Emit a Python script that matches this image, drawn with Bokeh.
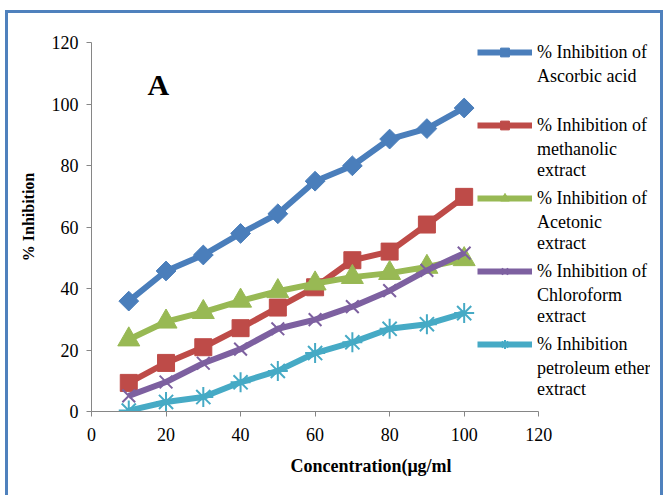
import numpy as np
from bokeh.plotting import figure
from bokeh.models import Legend, LegendItem, Label, Range1d, FixedTicker
from bokeh.embed import file_html
from bokeh.resources import INLINE

conc = [10, 20, 30, 40, 50, 60, 70, 80, 90, 100]
ascorbic = [35.9, 45.7, 50.9, 57.9, 64.3, 74.9, 79.9, 88.6, 92.0, 98.7]
methanolic = [9.3, 15.8, 20.9, 27.1, 33.8, 40.4, 49.2, 52.0, 60.8, 69.8]
acetonic = [23.4, 29.2, 32.3, 36.0, 39.1, 41.6, 43.7, 45.0, 47.0, 49.5]
chloroform = [5.1, 9.6, 15.7, 20.3, 26.9, 29.9, 34.1, 39.3, 45.9, 51.5]
petroleum = [0.3, 3.1, 4.7, 9.5, 13.2, 19.0, 22.5, 26.9, 28.4, 32.0]

label_first = ["% Inhibition of", "% Inhibition of", "% Inhibition of",
               "% Inhibition of", "% Inhibition"]
label_rest = ["Ascorbic acid\n\u00a0", "methanolic\nextract", "Acetonic\nextract",
              "Chloroform\nextract", "petroleum ether\nextract"]
colors = ["#4A7EBB", "#BE4B48", "#98B954", "#7D60A0", "#46AAC5"]
x_ticks = [0, 20, 40, 60, 80, 100, 120]
y_ticks = [0, 20, 40, 60, 80, 100, 120]

FONT = "Liberation Serif"

p = figure(width=658, height=485, output_backend="svg", toolbar_location=None,
           x_range=Range1d(0, 150), y_range=Range1d(0, 120))
p.margin = (10, 0, 0, 5)
p.styles = {"border-left": "3px solid #4F81BD", "border-top": "3px solid #4F81BD",
            "border-right": "3px solid #4F81BD"}
p.min_border_left = 83
p.min_border_right = 16
p.min_border_top = 29
p.min_border_bottom = 87
p.outline_line_color = None
p.xgrid.visible = False
p.ygrid.visible = False

for ax in (p.xaxis[0], p.yaxis[0]):
    ax.bounds = (0, 120)
    ax.axis_line_color = "#868686"
    ax.major_tick_line_color = "#868686"
    ax.minor_tick_line_color = None
    ax.major_tick_in = 0
    ax.major_tick_out = 5
    ax.major_label_text_font = FONT
    ax.major_label_text_font_size = "18px"
    ax.major_label_text_color = "black"
    ax.axis_label_text_font = FONT
    ax.axis_label_text_font_style = "bold"
    ax.axis_label_text_color = "black"
p.xaxis.ticker = FixedTicker(ticks=x_ticks)
p.yaxis.ticker = FixedTicker(ticks=y_ticks)
p.xaxis.axis_label = "Concentration(\u03bcg/ml"
p.yaxis.axis_label = "\u00a0\u00a0\u00a0\u00a0\u00a0% Inhibition"
p.xaxis.axis_label_text_font_size = "18px"
p.yaxis.axis_label_text_font_size = "16px"
p.xaxis.major_label_standoff = 11
p.yaxis.major_label_standoff = 8
p.xaxis.axis_label_standoff = 12
p.yaxis.axis_label_standoff = 12

series = [ascorbic, methanolic, acetonic, chloroform, petroleum]
markers = [("square", 14, np.pi / 4), ("square", 17, 0), ("triangle", 22, 0),
           ("x", 18, 0), ("asterisk", 20, 0)]
items_a, items_b = [], []
for vals, col, l1, l2, (mk, sz, ang) in zip(series, colors, label_first, label_rest, markers):
    lr = p.line(conc, vals, line_color=col, line_width=6, line_join="round", line_cap="butt")
    if mk in ("x", "asterisk"):
        sr = p.scatter(conc, vals, marker=mk, size=sz, line_color=col, line_width=2)
    else:
        sr = p.scatter(conc, vals, marker=mk, size=sz, angle=ang, fill_color=col, line_color=col)
    items_a.append(LegendItem(label=l1, renderers=[lr, sr]))
    items_b.append(LegendItem(label=l2, renderers=[lr, sr]))

common = dict(label_text_font=FONT, label_text_font_size="18px", label_text_color="black",
              label_text_line_height=1.2, padding=0, margin=0,
              background_fill_alpha=0, border_line_color=None)
legend_a = Legend(items=items_a, location=(386, 56), glyph_width=55, glyph_height=22,
                  label_height=22, label_standoff=5, spacing=51, **common)
legend_b = Legend(items=items_b, location=(446, 11), glyph_width=0, glyph_height=20,
                  label_height=43, label_standoff=0, spacing=30, **common)
p.add_layout(legend_a, "center")
p.add_layout(legend_b, "center")

p.add_layout(Label(x=15.0, y=106.4, text="A", text_font=FONT, text_font_style="bold",
                   text_font_size="30px", text_color="black", text_baseline="alphabetic"))

open("out.html", "w").write(file_html(p, INLINE))
